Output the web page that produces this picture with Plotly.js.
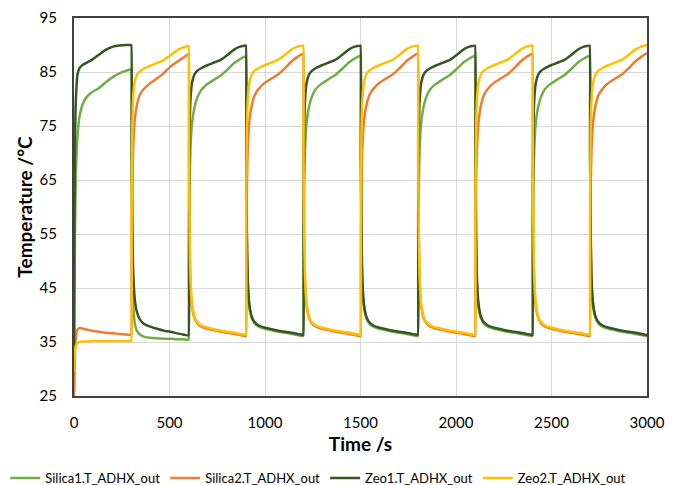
<!DOCTYPE html>
<html>
<head>
<meta charset="utf-8">
<script src="https://cdn.plot.ly/plotly-3.0.1.min.js"></script>
<style>html,body{margin:0;padding:0;background:#fff;}#chart{width:678px;height:485px;}</style>
</head>
<body>
<div id="chart"></div>
<script>
const seriesNames = ["Silica1.T_ADHX_out", "Silica2.T_ADHX_out", "Zeo1.T_ADHX_out", "Zeo2.T_ADHX_out"];
const seriesColors = ["#70AD47", "#ED7D31", "#375623", "#FFC000"];

const time = [
0,2,5,10,18,30,45,65,95,130,170,205,240,270,299,
300,302,305,310,318,330,345,365,395,430,470,505,540,570,599,
600,602,605,610,618,630,645,665,695,730,770,805,840,870,899,
900,902,905,910,918,930,945,965,995,1030,1070,1105,1140,1170,1199,
1200,1202,1205,1210,1218,1230,1245,1265,1295,1330,1370,1405,1440,1470,1499,
1500,1502,1505,1510,1518,1530,1545,1565,1595,1630,1670,1705,1740,1770,1799,
1800,1802,1805,1810,1818,1830,1845,1865,1895,1930,1970,2005,2040,2070,2099,
2100,2102,2105,2110,2118,2130,2145,2165,2195,2230,2270,2305,2340,2370,2399,
2400,2402,2405,2410,2418,2430,2445,2465,2495,2530,2570,2605,2640,2670,2699,
2700,2702,2705,2710,2718,2730,2745,2765,2795,2830,2870,2905,2940,2970,3000
];

const silica1 = [
25,40,55,66,73,77,79,80.3,81.3,82,83.2,84.1,84.8,85.2,85.5,
85.5,65,50,42,38.5,37,36.4,36,35.8,35.7,35.6,35.6,35.5,35.5,35.4,
35.4,50,63,71,75.5,78.3,80.2,81.6,82.7,83.5,84.4,85.5,86.7,87.4,87.9,
87.9,68,54,45.5,41.5,39.5,38.5,37.9,37.5,37.2,36.9,36.7,36.5,36.3,36.1,
36.1,50,63,71,75.7,78.5,80.4,81.8,82.8,83.6,84.5,85.6,86.8,87.5,88,
88,68,54,45.5,41.5,39.5,38.5,37.9,37.5,37.2,36.9,36.7,36.5,36.3,36.1,
36.1,50,63,71,75.7,78.5,80.4,81.8,82.8,83.6,84.5,85.6,86.8,87.5,88,
88,68,54,45.5,41.5,39.5,38.5,37.9,37.5,37.2,36.9,36.7,36.5,36.3,36.1,
36.1,50,63,71,75.7,78.5,80.4,81.8,82.8,83.6,84.5,85.6,86.8,87.5,88,
88,68,54,45.5,41.5,39.5,38.5,37.9,37.5,37.2,36.9,36.7,36.5,36.3,36.1
];

const silica2 = [
25.5,29,33,36,37.3,37.6,37.5,37.3,37.1,36.9,36.7,36.6,36.5,36.4,36.3,
36.3,50,63,71,76,79,80.8,81.8,82.8,83.7,84.8,86,86.9,87.6,88.3,
88.3,68,54,45.5,41.5,39.5,38.5,37.9,37.5,37.2,36.9,36.7,36.5,36.3,36.1,
36.1,50,63,71,75.8,78.7,80.6,81.8,82.9,83.7,84.6,85.7,87,87.8,88.4,
88.4,68,54,45.5,41.5,39.5,38.5,37.9,37.5,37.2,36.9,36.7,36.5,36.3,36.1,
36.1,50,63,71,75.8,78.7,80.6,81.8,82.9,83.7,84.6,85.7,87,87.8,88.4,
88.4,68,54,45.5,41.5,39.5,38.5,37.9,37.5,37.2,36.9,36.7,36.5,36.3,36.1,
36.1,50,63,71,75.8,78.7,80.6,81.8,82.9,83.7,84.6,85.7,87,87.8,88.4,
88.4,68,54,45.5,41.5,39.5,38.5,37.9,37.5,37.2,36.9,36.7,36.5,36.3,36.1,
36.1,50,63,71,75.8,78.7,80.6,81.8,82.9,83.7,84.6,85.7,87,87.8,88.5
];

const zeo1 = [
30,55,72,80,84.5,85.8,86.3,86.7,87.3,88.2,89.2,89.7,89.9,90,90,
90,72,58,48,43,40.5,39.2,38.4,37.9,37.5,37.1,36.9,36.6,36.4,36.2,
36.2,58,74,80,83,84.5,85.2,85.7,86.2,86.7,87.3,88.2,89.2,89.7,89.9,
89.9,70,56,46.5,42,39.8,38.7,38.1,37.7,37.4,37.1,36.9,36.7,36.5,36.3,
36.3,58,74,80,83,84.5,85.2,85.7,86.2,86.7,87.3,88.2,89.2,89.7,89.9,
89.9,70,56,46.5,42,39.8,38.7,38.1,37.7,37.4,37.1,36.9,36.7,36.5,36.3,
36.3,58,74,80,83,84.5,85.2,85.7,86.2,86.7,87.3,88.2,89.2,89.7,89.9,
89.9,70,56,46.5,42,39.8,38.7,38.1,37.7,37.4,37.1,36.9,36.7,36.5,36.3,
36.3,58,74,80,83,84.5,85.2,85.7,86.2,86.7,87.3,88.2,89.2,89.7,89.9,
89.9,70,56,46.5,42,39.8,38.7,38.1,37.7,37.4,37.1,36.9,36.7,36.5,36.3
];

const zeo2 = [
29.5,32,33.5,34.3,34.8,35,35.1,35.1,35.2,35.2,35.2,35.2,35.2,35.2,35.2,
35.2,58,74,80.5,83.2,84.5,85.1,85.6,86.1,86.6,87.2,88.1,89,89.5,89.8,
89.8,70,56,46.5,42,39.8,38.7,38.1,37.7,37.4,37.1,36.9,36.7,36.5,36.3,
36.3,58,74,80,83,84.5,85.2,85.7,86.2,86.7,87.3,88.2,89.2,89.7,89.9,
89.9,70,56,46.5,42,39.8,38.7,38.1,37.7,37.4,37.1,36.9,36.7,36.5,36.3,
36.3,58,74,80,83,84.5,85.2,85.7,86.2,86.7,87.3,88.2,89.2,89.7,89.9,
89.9,70,56,46.5,42,39.8,38.7,38.1,37.7,37.4,37.1,36.9,36.7,36.5,36.3,
36.3,58,74,80,83,84.5,85.2,85.7,86.2,86.7,87.3,88.2,89.2,89.7,89.9,
89.9,70,56,46.5,42,39.8,38.7,38.1,37.7,37.4,37.1,36.9,36.7,36.5,36.3,
36.3,58,74,80,83,84.5,85.2,85.7,86.2,86.7,87.3,88.2,89.2,89.7,90
];

const xTickVals = [0, 500, 1000, 1500, 2000, 2500, 3000];
const yTickVals = [25, 35, 45, 55, 65, 75, 85, 95];

const values = [silica1, silica2, zeo1, zeo2];
const traces = values.map((v, i) => ({
  x: time, y: v, type: "scatter", mode: "lines", name: seriesNames[i],
  line: {color: seriesColors[i], width: 2.5, shape: "spline", smoothing: 0.6}
}));

const font = "Lato, 'Open Sans', sans-serif";
const layout = {
  width: 678, height: 485,
  margin: {l: 74, r: 31, t: 18, b: 89, autoexpand: false},
  paper_bgcolor: "#fff", plot_bgcolor: "#fff",
  font: {family: font, color: "#000", size: 15},
  showlegend: true,
  legend: {orientation: "h", x: -0.12, xanchor: "left", y: -0.217, yanchor: "middle",
    font: {family: font, size: 13, color: "#000"}, itemwidth: 30, tracegroupgap: 0},
  xaxis: {
    range: [0, 3000], tickvals: xTickVals, ticktext: xTickVals.map(String),
    showgrid: true, gridcolor: "#d9d9d9", gridwidth: 1, zeroline: false,
    showline: true, mirror: true, linecolor: "#404040", linewidth: 2,
    ticks: "", ticklabelstandoff: 12, tickfont: {size: 15},
    title: {text: "<b>Time /s</b>", font: {size: 19}, standoff: 8}
  },
  yaxis: {
    range: [25, 95], tickvals: yTickVals, ticktext: yTickVals.map(String),
    showgrid: true, gridcolor: "#d9d9d9", gridwidth: 1, zeroline: false,
    showline: true, mirror: true, linecolor: "#404040", linewidth: 2,
    ticks: "", ticklabelstandoff: 12, tickfont: {size: 15},
    title: {text: "<b>Temperature /°C</b>", font: {size: 19}, standoff: 2}
  }
};
Plotly.newPlot("chart", traces, layout, {staticPlot: true, displayModeBar: false});
</script>
</body>
</html>
